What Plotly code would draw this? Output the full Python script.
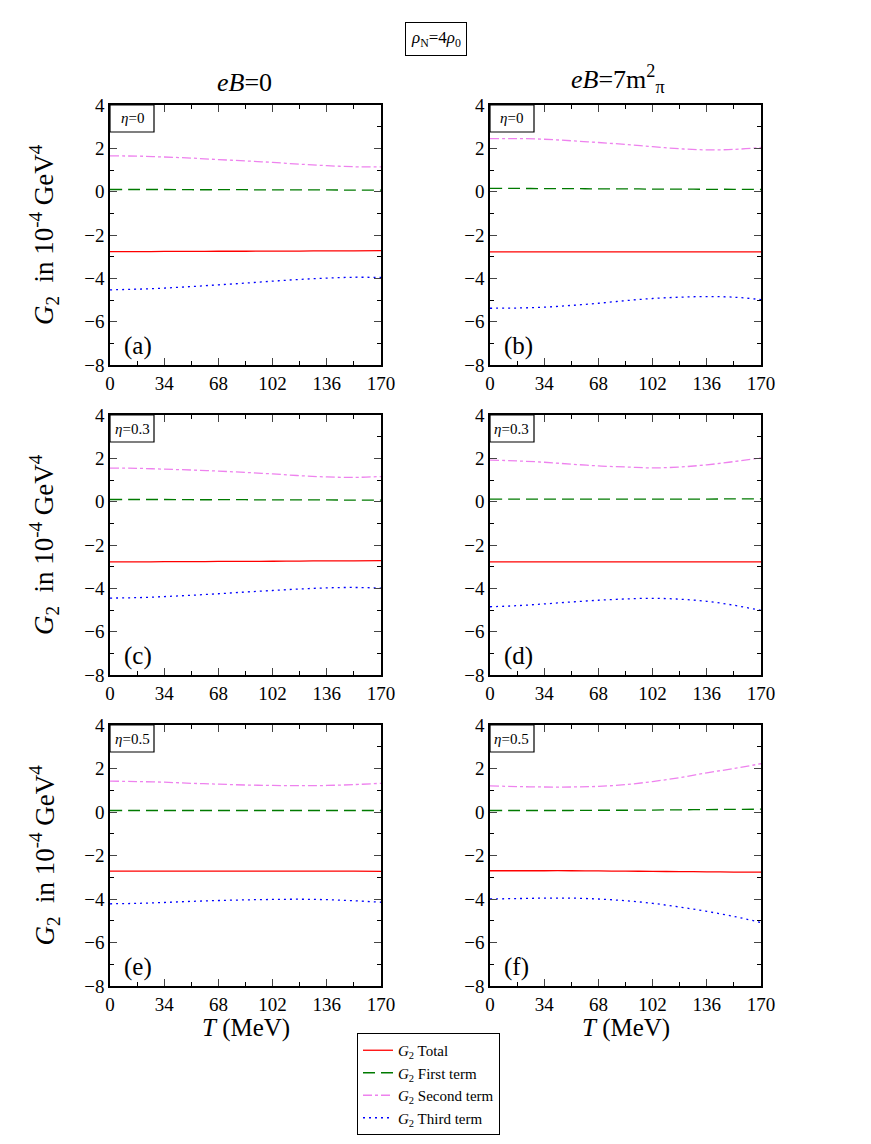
import plotly.graph_objects as go

# temperature grid (MeV)
T = [0, 17, 34, 51, 68, 85, 102, 119, 136, 153, 170]

# panel (a): eB=0, eta=0
a_total = [-2.77, -2.77, -2.76, -2.76, -2.75, -2.75, -2.74, -2.74, -2.73, -2.73, -2.72]
a_first = [0.10, 0.10, 0.10, 0.09, 0.09, 0.09, 0.08, 0.08, 0.08, 0.07, 0.07]
a_second = [1.65, 1.64, 1.60, 1.55, 1.48, 1.42, 1.35, 1.27, 1.20, 1.15, 1.14]
a_third = [-4.53, -4.50, -4.45, -4.38, -4.30, -4.22, -4.13, -4.05, -3.99, -3.95, -3.96]

# panel (b): eB=7 m_pi^2, eta=0
b_total = [-2.78, -2.78, -2.78, -2.78, -2.78, -2.78, -2.78, -2.78, -2.78, -2.78, -2.78]
b_first = [0.15, 0.15, 0.14, 0.14, 0.13, 0.13, 0.12, 0.12, 0.11, 0.11, 0.10]
b_second = [2.45, 2.45, 2.42, 2.35, 2.27, 2.18, 2.08, 1.98, 1.93, 1.95, 2.04]
b_third = [-5.38, -5.37, -5.33, -5.25, -5.15, -5.03, -4.93, -4.87, -4.84, -4.87, -4.98]

# panel (c): eB=0, eta=0.3
c_total = [-2.78, -2.78, -2.77, -2.77, -2.76, -2.76, -2.75, -2.74, -2.73, -2.73, -2.72]
c_first = [0.10, 0.10, 0.10, 0.09, 0.09, 0.09, 0.08, 0.08, 0.08, 0.07, 0.07]
c_second = [1.55, 1.54, 1.50, 1.46, 1.41, 1.35, 1.28, 1.20, 1.14, 1.12, 1.16]
c_third = [-4.45, -4.43, -4.38, -4.32, -4.25, -4.17, -4.10, -4.03, -3.98, -3.96, -3.99]

# panel (d): eB=7 m_pi^2, eta=0.3
d_total = [-2.78, -2.78, -2.78, -2.78, -2.78, -2.78, -2.78, -2.78, -2.78, -2.78, -2.78]
d_first = [0.12, 0.12, 0.12, 0.12, 0.12, 0.12, 0.12, 0.12, 0.12, 0.13, 0.13]
d_second = [1.92, 1.88, 1.82, 1.73, 1.65, 1.60, 1.56, 1.60, 1.70, 1.85, 2.02]
d_third = [-4.85, -4.80, -4.72, -4.63, -4.55, -4.49, -4.46, -4.50, -4.60, -4.78, -5.02]

# panel (e): eB=0, eta=0.5
e_total = [-2.72, -2.72, -2.72, -2.72, -2.72, -2.72, -2.72, -2.72, -2.72, -2.72, -2.73]
e_first = [0.07, 0.07, 0.07, 0.07, 0.07, 0.07, 0.07, 0.07, 0.07, 0.07, 0.07]
e_second = [1.42, 1.40, 1.37, 1.32, 1.28, 1.24, 1.22, 1.21, 1.22, 1.26, 1.32]
e_third = [-4.22, -4.20, -4.16, -4.11, -4.07, -4.04, -4.02, -4.01, -4.03, -4.08, -4.15]

# panel (f): eB=7 m_pi^2, eta=0.5
f_total = [-2.70, -2.70, -2.70, -2.70, -2.71, -2.72, -2.73, -2.74, -2.75, -2.76, -2.76]
f_first = [0.07, 0.07, 0.07, 0.07, 0.08, 0.08, 0.09, 0.10, 0.11, 0.12, 0.13]
f_second = [1.20, 1.17, 1.15, 1.15, 1.18, 1.26, 1.40, 1.58, 1.80, 2.00, 2.22]
f_third = [-4.00, -3.98, -3.96, -3.96, -4.00, -4.08, -4.20, -4.37, -4.57, -4.80, -5.08]

panels = [
    ("(a)", "0", a_total, a_first, a_second, a_third),
    ("(b)", "0", b_total, b_first, b_second, b_third),
    ("(c)", "0.3", c_total, c_first, c_second, c_third),
    ("(d)", "0.3", d_total, d_first, d_second, d_third),
    ("(e)", "0.5", e_total, e_first, e_second, e_third),
    ("(f)", "0.5", f_total, f_first, f_second, f_third),
]

# page body has an 8px margin, so the figure sits 8px in from the corner
OFF = 8
W, H = 871 - 2 * OFF, 1144 - 2 * OFF


def px(x):
    return (x - OFF) / W


def py(y):
    return 1 - (y - OFF) / H


col_px = [(110, 381), (490, 761)]
row_px = [(105, 365), (415, 675), (725, 986)]

series_names = ["<i>G</i><sub>2</sub> Total", "<i>G</i><sub>2</sub> First term",
                "<i>G</i><sub>2</sub> Second term", "<i>G</i><sub>2</sub> Third term"]
series_style = [dict(color="#ff0000", dash="solid"),
                dict(color="#007a00", dash="12px,6px"),
                dict(color="#ee82ee", dash="dashdot"),
                dict(color="#0000ff", dash="2px,4px")]

SERIF = "Liberation Serif"
fig = go.Figure()
layout = {}
annotations = []
shapes = []


def note(x, y, text, size, **kw):
    d = dict(xref="paper", yref="paper", x=px(x), y=py(y), text=text, showarrow=False,
             xanchor="center", yanchor="middle",
             font=dict(family=SERIF, size=size, color="black"))
    d.update(kw)
    annotations.append(d)


for k, (lbl, eta, tot, fir, sec, thi) in enumerate(panels):
    r, c = divmod(k, 2)
    n = k + 1
    xa = "x" if n == 1 else "x%d" % n
    ya = "y" if n == 1 else "y%d" % n
    x0, x1 = col_px[c]
    y0, y1 = row_px[r]
    for s, vals in enumerate([tot, fir, sec, thi]):
        fig.add_trace(go.Scatter(x=T, y=vals, mode="lines", name=series_names[s],
                                 line=dict(width=1.3, shape="spline", **series_style[s]),
                                 showlegend=(k == 0), xaxis=xa, yaxis=ya))
    layout["xaxis" if n == 1 else "xaxis%d" % n] = dict(
        domain=[px(x0), px(x1)], anchor=ya, range=[0, 170], automargin=False,
        tickvals=[0, 34, 68, 102, 136, 170], ticks="inside", ticklen=7,
        showline=True, linecolor="black", linewidth=1.5, mirror="allticks",
        showgrid=False, zeroline=False, tickfont=dict(family=SERIF, size=19, color="black"),
        minor=dict(dtick=17, tick0=0, ticks="inside", ticklen=4, tickcolor="black"))
    layout["yaxis" if n == 1 else "yaxis%d" % n] = dict(
        domain=[py(y1), py(y0)], anchor=xa, range=[-8, 4], automargin=False,
        tickvals=[-8, -6, -4, -2, 0, 2, 4], ticks="inside", ticklen=7,
        showline=True, linecolor="black", linewidth=1.5, mirror="allticks",
        showgrid=False, zeroline=False, tickfont=dict(family=SERIF, size=19, color="black"),
        minor=dict(dtick=1, tick0=0, ticks="inside", ticklen=4, tickcolor="black"))
    # eta box
    shapes.append(dict(type="rect", xref="paper", yref="paper",
                       x0=px(x0), x1=px(x0 + 44), y0=py(y0 + 27), y1=py(y0),
                       line=dict(color="black", width=1.2), fillcolor="white"))
    note(x0 + 22, y0 + 13.5, "<i>η</i>=" + eta, 15)
    note(x0 + 12, y1 - 19, lbl, 25, xanchor="left")
    if c == 0:
        note(44, (y0 + y1) / 2,
             "<i>G</i><sub>2</sub>&nbsp;&nbsp;in 10<sup>-4</sup> GeV<sup>4</sup>", 27,
             textangle=-90)
    if r == 2:
        note((x0 + x1) / 2, 1028, "<i>T</i> (MeV)", 25)

note(245, 83, "<i>eB</i>=0", 26)
note(618, 79, "<i>eB</i>=7m<sup>2</sup><sub>π</sub>", 26)
note(436, 39, "<i>ρ</i><sub>N</sub>=4<i>ρ</i><sub>0</sub>", 17,
     bordercolor="black", borderwidth=1, borderpad=5)

fig.update_layout(
    width=W, height=H, margin=dict(l=0, r=0, t=0, b=0, autoexpand=False),
    paper_bgcolor="white", plot_bgcolor="white",
    annotations=annotations, shapes=shapes,
    legend=dict(x=px(357), y=py(1033), xanchor="left", yanchor="top",
                bordercolor="black", borderwidth=1, bgcolor="white",
                font=dict(family=SERIF, size=15, color="black"),
                tracegroupgap=0, itemwidth=30),
    **layout)

fig.write_html("out.html")
